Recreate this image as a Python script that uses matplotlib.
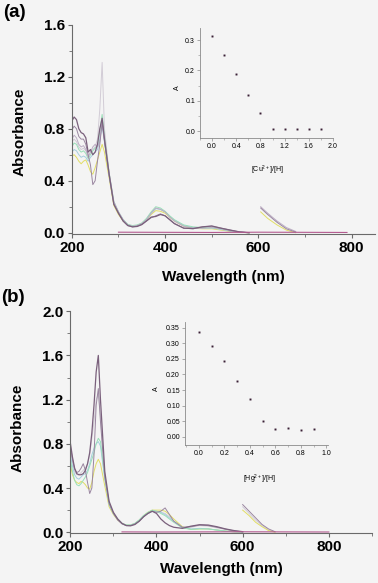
import matplotlib
matplotlib.use("Agg")
import matplotlib.pyplot as plt
from matplotlib.ticker import MultipleLocator, FormatStrFormatter

plt.rcParams['font.family'] = ['Liberation Sans', 'DejaVu Sans']
plt.rcParams['mathtext.default'] = 'regular'

# ---------------- panel (a): Cu2+ titration ----------------
a_wl = [200, 205, 210, 215, 220, 225, 230, 235, 240, 245, 250, 255, 260, 265, 270, 280, 290, 300, 310,
        320, 330, 340, 350, 360, 370, 380, 390, 400, 410, 420, 440, 460, 480, 500, 520, 540, 560, 580]
a_dark = [.86, .89, .87, .80, .77, .76, .73, .62, .64, .60, .62, .68, .80, .88, .72, .45, .22, .15, .09,
          .055, .045, .048, .062, .09, .12, .125, .14, .13, .10, .07, .035, .032, .045, .052, .035, .02, .006, 0]
a_mauve = [.79, .82, .80, .74, .72, .72, .68, .60, .52, .37, .40, .55, .68, .85, .70, .44, .22, .15, .09,
           .055, .045, .05, .065, .09, .115, .13, .145, .13, .10, .07, .035, .03, .045, .05, .035, .02, .006, 0]
a_lilac = [.72, .75, .73, .68, .66, .67, .64, .58, .62, .66, .68, .66, .70, .86, .72, .46, .24, .16, .10,
           .06, .05, .055, .07, .10, .15, .19, .18, .16, .12, .09, .05, .035, .035, .04, .03, .015, .005, 0]
a_green = [.66, .69, .68, .64, .62, .63, .61, .57, .60, .63, .65, .67, .78, .91, .74, .46, .24, .16, .10,
           .065, .055, .06, .075, .11, .16, .20, .19, .165, .13, .10, .06, .045, .04, .04, .03, .015, .005, 0]
a_cyan = [.62, .64, .63, .60, .58, .59, .58, .55, .58, .60, .62, .64, .72, .82, .70, .44, .23, .155, .10,
          .06, .05, .055, .07, .10, .15, .185, .18, .16, .125, .095, .055, .04, .035, .035, .025, .012, .004, 0]
a_yellow = [.59, .60, .58, .55, .53, .55, .56, .52, .47, .45, .50, .56, .62, .68, .62, .42, .21, .14, .09,
            .06, .05, .055, .07, .10, .14, .17, .165, .15, .12, .09, .05, .035, .03, .03, .02, .01, .003, 0]
a_pale = [.70, .72, .70, .66, .64, .65, .63, .60, .62, .64, .66, .72, .95, 1.31, .80, .46, .24, .16, .10,
          .06, .05, .055, .07, .10, .15, .19, .18, .16, .12, .09, .05, .035, .035, .04, .03, .015, .005, 0]
a_tail_wl = [605, 620, 640, 660, 680]
a_tail_gray = [.19, .14, .08, .03, .005]
a_tail_yellow = [.16, .11, .06, .02, 0]
a_tail_lilac = [.20, .15, .09, .04, .01]
a_base_wl = [300, 400, 500, 600, 700, 790]
a_base = [.004, .003, .002, .004, .003, .002]

a_ratio = [0.0, 0.2, 0.4, 0.6, 0.8, 1.0, 1.2, 1.4, 1.6, 1.8]
a_A = [0.315, 0.25, 0.19, 0.12, 0.06, 0.008, 0.008, 0.008, 0.008, 0.008]

# ---------------- panel (b): Hg2+ titration ----------------
b_wl = [200, 205, 210, 215, 220, 225, 230, 235, 240, 245, 250, 255, 260, 265, 270, 280, 290, 300, 310, 320,
        330, 340, 350, 360, 370, 380, 390, 400, 410, 420, 430, 440, 460, 480, 500, 520, 540, 560, 580, 600]
b_dark = [.81, .68, .58, .53, .52, .52, .53, .56, .62, .72, .90, 1.15, 1.45, 1.60, 1.20, .55, .28, .18, .12, .08,
          .06, .058, .07, .10, .14, .17, .19, .17, .12, .085, .06, .045, .035, .055, .068, .065, .05, .03, .015, .005]
b_mauve = [.78, .66, .57, .54, .55, .58, .62, .56, .45, .35, .40, .70, 1.15, 1.30, 1.0, .50, .26, .17, .11, .075,
           .06, .06, .075, .10, .14, .17, .19, .18, .19, .22, .16, .10, .045, .05, .065, .06, .045, .028, .012, .004]
b_green = [.66, .55, .47, .43, .42, .44, .47, .50, .54, .60, .66, .72, .80, .85, .82, .50, .26, .17, .12, .08,
           .065, .065, .08, .11, .15, .18, .20, .19, .17, .15, .12, .09, .04, .025, .03, .03, .02, .01, .004, 0]
b_yellow = [.62, .52, .47, .45, .44, .46, .45, .43, .40, .39, .45, .55, .62, .66, .62, .42, .23, .16, .11, .08,
            .065, .065, .08, .11, .15, .18, .20, .20, .20, .19, .16, .12, .05, .025, .03, .03, .02, .01, .004, 0]
b_cyan = [.70, .60, .52, .49, .48, .50, .52, .53, .56, .62, .70, .76, .80, .82, .78, .48, .25, .17, .115, .08,
          .065, .065, .08, .11, .15, .17, .19, .19, .18, .16, .13, .10, .045, .03, .035, .03, .02, .01, .004, 0]
b_pale = [.75, .63, .55, .52, .52, .54, .56, .58, .62, .70, .85, 1.0, 1.2, 1.25, 1.05, .52, .27, .17, .115, .08,
          .062, .062, .076, .10, .14, .17, .19, .185, .18, .17, .14, .10, .045, .045, .06, .055, .04, .025, .01, .003]
b_tail_wl = [600, 615, 630, 645, 660, 675]
b_tail_gray = [.25, .19, .13, .07, .03, .005]
b_tail_pale = [.23, .17, .11, .06, .02, .003]
b_tail_yellow = [.20, .15, .09, .05, .015, 0]
b_base_wl = [320, 400, 500, 600, 700, 800]
b_base = [.003, .002, .003, .004, .003, .002]

b_ratio = [0.0, 0.1, 0.2, 0.3, 0.4, 0.5, 0.6, 0.7, 0.8, 0.9]
b_A = [0.337, 0.292, 0.243, 0.180, 0.121, 0.050, 0.024, 0.028, 0.021, 0.024]

c_dark = '#7a607c'
c_mauve = '#9a86a0'
c_lilac = '#bcaec4'
c_green = '#9adfb8'
c_cyan = '#a6cede'
c_yellow = '#e2de66'
c_pale = '#d2ccd6'
c_base = '#b45a90'

bg = '#f4f4f4'
fig = plt.figure(figsize=(3.78, 5.83), dpi=100, facecolor=bg)

ax_a = fig.add_axes([0.19, 0.5986, 0.802, 0.359])
ax_b = fig.add_axes([0.186, 0.0852, 0.798, 0.381])
ins_a = fig.add_axes([0.529, 0.763, 0.352, 0.189])
ins_b = fig.add_axes([0.489, 0.2367, 0.378, 0.2116])


def style_main(ax):
    ax.set_facecolor('none')
    for s in ['top', 'right']:
        ax.spines[s].set_visible(False)
    for s in ['left', 'bottom']:
        ax.spines[s].set_color('#6a6a6a')
        ax.spines[s].set_linewidth(0.8)
    ax.tick_params(which='major', direction='out', length=3, width=0.8, color='#6a6a6a',
                   labelsize=11, pad=2)
    ax.tick_params(which='minor', direction='out', length=2, width=0.6, color='#6a6a6a')
    for lbl in ax.get_xticklabels() + ax.get_yticklabels():
        lbl.set_fontweight('bold')
    ax.xaxis.set_major_locator(MultipleLocator(200))
    ax.xaxis.set_minor_locator(MultipleLocator(100))
    ax.yaxis.set_major_locator(MultipleLocator(0.4))
    ax.yaxis.set_minor_locator(MultipleLocator(0.2))
    ax.yaxis.set_major_formatter(FormatStrFormatter('%.1f'))


def style_inset(ax):
    ax.set_facecolor('none')
    for s in ['top', 'right']:
        ax.spines[s].set_visible(False)
    for s in ['left', 'bottom']:
        ax.spines[s].set_color('#8a8a8a')
        ax.spines[s].set_linewidth(0.6)
    ax.tick_params(which='major', direction='out', length=2, width=0.5, color='#8a8a8a',
                   labelsize=5, pad=1.5)
    ax.tick_params(which='minor', direction='out', length=1.2, width=0.4, color='#8a8a8a')


# panel (a) spectra
lw = 0.7
ax_a.plot(a_wl, a_pale, color=c_pale, lw=lw)
ax_a.plot(a_wl, a_yellow, color=c_yellow, lw=lw)
ax_a.plot(a_wl, a_cyan, color=c_cyan, lw=lw)
ax_a.plot(a_wl, a_green, color=c_green, lw=lw)
ax_a.plot(a_wl, a_lilac, color=c_lilac, lw=lw)
ax_a.plot(a_wl, a_mauve, color=c_mauve, lw=lw)
ax_a.plot(a_wl, a_dark, color=c_dark, lw=0.9)
ax_a.plot(a_tail_wl, a_tail_lilac, color=c_lilac, lw=lw)
ax_a.plot(a_tail_wl, a_tail_yellow, color=c_yellow, lw=lw)
ax_a.plot(a_tail_wl, a_tail_gray, color=c_mauve, lw=lw)
ax_a.plot(a_base_wl, a_base, color=c_base, lw=0.8)
ax_a.set_xlim(200, 850)
ax_a.set_ylim(-0.01, 1.6)
style_main(ax_a)
ax_a.set_xlabel('Wavelength (nm)', fontsize=11, fontweight='bold')
ax_a.set_ylabel('Absorbance', fontsize=11, fontweight='bold')
ax_a.xaxis.set_label_coords(0.5, -0.172)
ax_a.yaxis.set_label_coords(-0.1485, 0.4875)

# panel (b) spectra
ax_b.plot(b_wl, b_pale, color=c_pale, lw=lw)
ax_b.plot(b_wl, b_yellow, color=c_yellow, lw=lw)
ax_b.plot(b_wl, b_cyan, color=c_cyan, lw=lw)
ax_b.plot(b_wl, b_green, color=c_green, lw=lw)
ax_b.plot(b_wl, b_mauve, color=c_mauve, lw=lw)
ax_b.plot(b_wl, b_dark, color=c_dark, lw=0.9)
ax_b.plot(b_tail_wl, b_tail_pale, color=c_pale, lw=lw)
ax_b.plot(b_tail_wl, b_tail_yellow, color=c_yellow, lw=lw)
ax_b.plot(b_tail_wl, b_tail_gray, color=c_mauve, lw=lw)
ax_b.plot(b_base_wl, b_base, color=c_base, lw=0.8)
ax_b.set_xlim(200, 900)
ax_b.set_ylim(-0.01, 2.0)
style_main(ax_b)
ax_b.set_xlabel('Wavelength (nm)', fontsize=11, fontweight='bold')
ax_b.set_ylabel('Absorbance', fontsize=11, fontweight='bold')
ax_b.xaxis.set_label_coords(0.5, -0.127)
ax_b.yaxis.set_label_coords(-0.152, 0.477)

# inset (a)
ins_a.plot(a_ratio, a_A, 's', color='#3a1f35', ms=1.4, mew=0)
ins_a.set_xlim(-0.2, 2.0)
ins_a.set_ylim(-0.023, 0.34)
style_inset(ins_a)
ins_a.xaxis.set_major_locator(MultipleLocator(0.4))
ins_a.xaxis.set_minor_locator(MultipleLocator(0.2))
ins_a.yaxis.set_major_locator(MultipleLocator(0.1))
ins_a.yaxis.set_minor_locator(MultipleLocator(0.05))
ins_a.xaxis.set_major_formatter(FormatStrFormatter('%.1f'))
ins_a.yaxis.set_major_formatter(FormatStrFormatter('%.1f'))
ins_a.set_xlabel('[Cu$^{2+}$]/[H]', fontsize=5)
ins_a.set_ylabel('A', fontsize=5)
ins_a.xaxis.set_label_coords(0.51, -0.236)
ins_a.yaxis.set_label_coords(-0.143, 0.455)

# inset (b)
ins_b.plot(b_ratio, b_A, 's', color='#3a1f35', ms=1.4, mew=0)
ins_b.set_xlim(-0.11, 1.01)
ins_b.set_ylim(-0.027, 0.37)
style_inset(ins_b)
ins_b.xaxis.set_major_locator(MultipleLocator(0.2))
ins_b.xaxis.set_minor_locator(MultipleLocator(0.1))
ins_b.yaxis.set_major_locator(MultipleLocator(0.05))
ins_b.xaxis.set_major_formatter(FormatStrFormatter('%.1f'))
ins_b.yaxis.set_major_formatter(FormatStrFormatter('%.2f'))
ins_b.set_xlabel('[Hg$^{2+}$]/[H]', fontsize=5)
ins_b.set_ylabel('A', fontsize=5)
ins_b.xaxis.set_label_coords(0.524, -0.225)
ins_b.yaxis.set_label_coords(-0.175, 0.46)

fig.text(0.008, 0.9786, '(a)', fontsize=13.5, fontweight='bold', va='center', ha='left')
fig.text(0.003, 0.489, '(b)', fontsize=13.5, fontweight='bold', va='center', ha='left')

fig.savefig('out.png', dpi=100, facecolor=bg)
